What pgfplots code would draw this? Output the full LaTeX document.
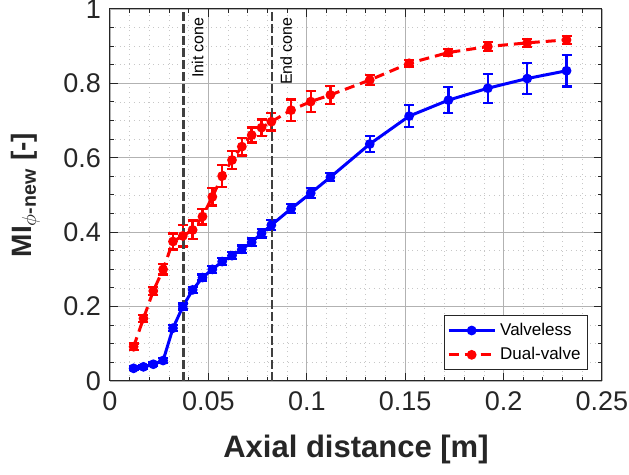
\documentclass[border=0pt]{standalone}
\usepackage{fontspec}
\setmainfont{Liberation Sans}
\usepackage{pgfplots}
\pgfplotsset{compat=1.18}
\definecolor{axgray}{RGB}{38,38,38}
\definecolor{conegray}{RGB}{64,64,64}
\definecolor{valveblue}{RGB}{0,0,255}
\definecolor{dualred}{RGB}{255,0,0}

% valveless: x, MI, error
\pgfplotstableread{
x      y      e
0.012  0.034  0.005
0.017  0.038  0.005
0.022  0.045  0.005
0.027  0.055  0.006
0.032  0.142  0.008
0.037  0.200  0.008
0.042  0.245  0.008
0.047  0.278  0.008
0.052  0.300  0.009
0.057  0.321  0.009
0.062  0.337  0.009
0.067  0.354  0.010
0.072  0.373  0.010
0.077  0.397  0.011
0.082  0.419  0.013
0.092  0.463  0.012
0.102  0.505  0.013
0.112  0.548  0.011
0.132  0.637  0.021
0.152  0.712  0.030
0.172  0.755  0.035
0.192  0.787  0.039
0.212  0.813  0.042
0.232  0.834  0.042
}\valveless

% dual-valve: x, MI, error
\pgfplotstableread{
x      y      e
0.012  0.092  0.009
0.017  0.168  0.009
0.022  0.242  0.011
0.027  0.300  0.014
0.032  0.375  0.022
0.037  0.390  0.029
0.042  0.406  0.025
0.047  0.442  0.021
0.052  0.495  0.023
0.057  0.551  0.029
0.062  0.594  0.024
0.067  0.630  0.024
0.072  0.661  0.020
0.077  0.681  0.022
0.082  0.697  0.024
0.092  0.728  0.029
0.102  0.751  0.028
0.112  0.769  0.024
0.132  0.809  0.013
0.152  0.854  0.009
0.172  0.883  0.009
0.192  0.899  0.012
0.212  0.909  0.011
0.232  0.917  0.011
}\dualvalve

\begin{document}
\begin{tikzpicture}
\path[use as bounding box] (-55pt,-47pt) rectangle (259.5pt,190.5pt);
\begin{axis}[
  scale only axis, width=246pt, height=186pt,
  xmin=0, xmax=0.25, ymin=0, ymax=1,
  xtick={0,0.05,0.1,0.15,0.2,0.25}, xticklabels={0,0.05,0.1,0.15,0.2,0.25},
  ytick={0,0.2,0.4,0.6,0.8,1}, yticklabels={0,0.2,0.4,0.6,0.8,1},
  minor x tick num=4, minor y tick num=3,
  grid=both,
  major grid style={black!30, line width=0.4pt},
  minor grid style={black!22, dotted, line width=0.4pt},
  tick align=inside, axis line style={axgray, line width=0.5pt},
  tick style={axgray, line width=0.5pt}, major tick length=4pt, minor tick length=2pt,
  ticklabel style={font=\fontsize{13.5}{15}\selectfont, text=axgray},
  xticklabel style={yshift=-2pt},
  yticklabel style={xshift=-1pt},
  xlabel={\textbf{Axial distance [m]}},
  ylabel={\textbf{MI\textsubscript{$\phi$-new} [-]}},
  xlabel style={font=\fontsize{15.5}{17}\selectfont, text=axgray, yshift=-5pt},
  ylabel style={font=\fontsize{14}{16}\selectfont, text=axgray, yshift=5pt},
  legend style={at={(rel axis cs:1,0)}, anchor=south east, xshift=-7pt, yshift=5.5pt,
    font=\fontsize{8.5}{10}\selectfont, draw=axgray, line width=0.5pt,
    inner sep=1.5pt, row sep=0.5pt},
  legend cell align=left,
  legend image code/.code={\draw[mark repeat=2, mark phase=2, #1] plot coordinates {(0pt,0pt) (11.5pt,0pt) (23pt,0pt)};},
  error bars/y dir=both, error bars/y explicit,
]
\addplot[valveblue, line width=1.5pt, mark=*, mark size=1.65pt,
  error bars/error bar style={line width=1.2pt},
  error bars/error mark options={rotate=90, valveblue, mark size=2.5pt, line width=1.2pt}]
  table[x=x, y=y, y error=e] {\valveless};
\addlegendentry{Valveless}
\addplot[dualred, line width=1.5pt, dash pattern=on 5pt off 3pt, mark=*, mark size=1.65pt, mark options={solid},
  error bars/error bar style={solid, line width=1.2pt},
  error bars/error mark options={rotate=90, solid, dualred, mark size=2.5pt, line width=1.2pt}]
  table[x=x, y=y, y error=e] {\dualvalve};
\addlegendentry{Dual-valve}

\draw[conegray, line width=1.4pt, dash pattern=on 4.5pt off 1.5pt] (axis cs:0.0373,0) -- (axis cs:0.0373,1);
\draw[conegray, line width=1.4pt, dash pattern=on 4.5pt off 1.5pt] (axis cs:0.0823,0) -- (axis cs:0.0823,1);
\node[rotate=90, anchor=north east, inner sep=4pt, font=\fontsize{8}{10}\selectfont, text=black] at (axis cs:0.0373,1) {Init cone};
\node[rotate=90, anchor=north east, inner sep=4pt, font=\fontsize{8}{10}\selectfont, text=black] at (axis cs:0.0823,1) {End cone};
\end{axis}
\end{tikzpicture}
\end{document}
